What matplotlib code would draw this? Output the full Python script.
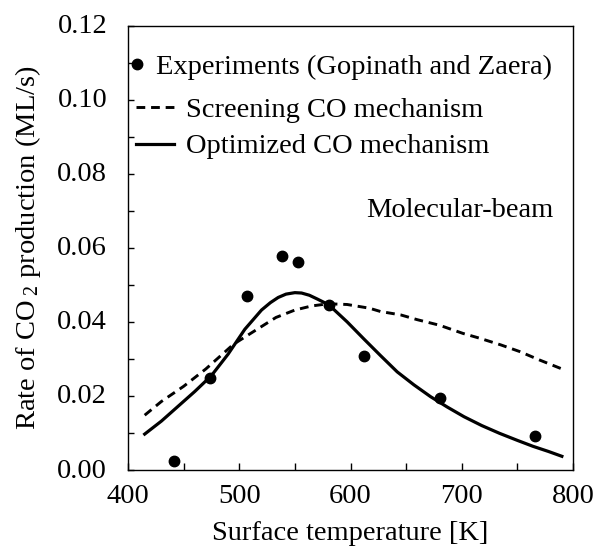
import matplotlib
matplotlib.use("Agg")
import matplotlib.pyplot as plt
import matplotlib.transforms as mtransforms
from matplotlib.ticker import MultipleLocator, FormatStrFormatter
from matplotlib.lines import Line2D

plt.rcParams['font.family'] = ['Liberation Serif', 'DejaVu Serif']
plt.rcParams['mathtext.fontset'] = 'custom'
plt.rcParams['mathtext.rm'] = 'Liberation Serif'
plt.rcParams['mathtext.it'] = 'Liberation Serif:italic'

# Experimental data (Gopinath and Zaera)
exp_T = [441, 474, 507, 538, 553, 581, 612, 680, 766]
exp_rate = [0.0025, 0.0248, 0.0471, 0.0577, 0.0563, 0.0445, 0.0309, 0.0194, 0.0093]

# Screening CO mechanism (dashed)
scr_T = [415, 430, 450, 470, 495, 515, 533, 550, 565, 580, 597, 617, 627, 645,
         660, 680, 701, 716, 735, 752, 770, 790]
scr_rate = [0.0148, 0.0185, 0.0226, 0.0273, 0.0340, 0.0378, 0.0412, 0.0432, 0.0443,
            0.0449, 0.0447, 0.0437, 0.0428, 0.0419, 0.0406, 0.0391, 0.0369, 0.0356,
            0.0338, 0.0320, 0.0297, 0.0273]

# Optimized CO mechanism (solid)
opt_T = [415, 430, 445, 460, 475, 490, 505, 520, 528, 535, 542, 550, 556, 563, 570,
         576, 582, 597, 612, 627, 642, 657, 672, 687, 702, 718, 734, 750, 764, 778, 790]
opt_rate = [0.0097, 0.0132, 0.0172, 0.0212, 0.0255, 0.0313, 0.0380, 0.0432, 0.0452,
            0.0466, 0.0475, 0.0479, 0.0478, 0.0472, 0.0462, 0.0453, 0.0442, 0.0400,
            0.0354, 0.0309, 0.0265, 0.0230, 0.0198, 0.0170, 0.0144, 0.0120, 0.0099,
            0.0080, 0.0064, 0.0050, 0.0037]

FS = 20.5

fig = plt.figure(figsize=(5.95, 5.49), dpi=100)
ax = fig.add_axes([128/595, 1-470/549, (573-128)/595, (470-25.7)/549])

dash = (0, (3.0, 2.0))
ax.plot(scr_T, scr_rate, color='black', lw=2.1, linestyle=dash)
ax.plot(opt_T, opt_rate, color='black', lw=2.3, linestyle='-', solid_joinstyle='round')
ax.plot(exp_T, exp_rate, 'o', color='black', markersize=7.5, linestyle='none')

ax.set_xlim(400, 800)
ax.set_ylim(0, 0.12)
ax.xaxis.set_major_locator(MultipleLocator(100))
ax.xaxis.set_minor_locator(MultipleLocator(50))
ax.yaxis.set_major_locator(MultipleLocator(0.02))
ax.yaxis.set_minor_locator(MultipleLocator(0.01))
ax.yaxis.set_major_formatter(FormatStrFormatter('%.2f'))

ax.tick_params(axis='both', which='both', direction='in', top=False, right=False,
               labelsize=FS, width=1.0, color='black')
ax.tick_params(axis='x', which='both', length=5, pad=10)
ax.tick_params(axis='y', which='both', length=4.5, pad=15)
for s in ax.spines.values():
    s.set_linewidth(1.0)

# reference y tick labels sit slightly above their ticks
offset = mtransforms.ScaledTranslation(0, 2/100, fig.dpi_scale_trans)
for lab in ax.get_yticklabels():
    lab.set_transform(lab.get_transform() + offset)

ax.set_xlabel('Surface temperature [K]', fontsize=FS, labelpad=9)
ax.set_ylabel(r'Rate of CO$_{\ 2}$ production (ML/s)', fontsize=FS, labelpad=10)

ax.text(782, 0.0702, 'Molecular-beam', fontsize=FS, ha='right', va='center')

h1 = [Line2D([], [], marker='o', color='black', markersize=7.5, linestyle='none')]
leg1 = ax.legend(h1, ['Experiments (Gopinath and Zaera)'], loc='center left',
                 bbox_to_anchor=(-0.005, 0.9077), frameon=False, fontsize=FS,
                 handlelength=0.8, handletextpad=0.25, borderpad=0, borderaxespad=0)
ax.add_artist(leg1)
h2 = [Line2D([], [], color='black', lw=2.1, linestyle=dash),
      Line2D([], [], color='black', lw=2.3)]
leg2 = ax.legend(h2, ['Screening CO mechanism', 'Optimized CO mechanism'],
                 loc='upper left', bbox_to_anchor=(0.018, 0.840), frameon=False,
                 fontsize=FS, handlelength=1.35, handletextpad=0.4, labelspacing=0.38,
                 borderpad=0, borderaxespad=0)

fig.savefig('out.png', dpi=100)
